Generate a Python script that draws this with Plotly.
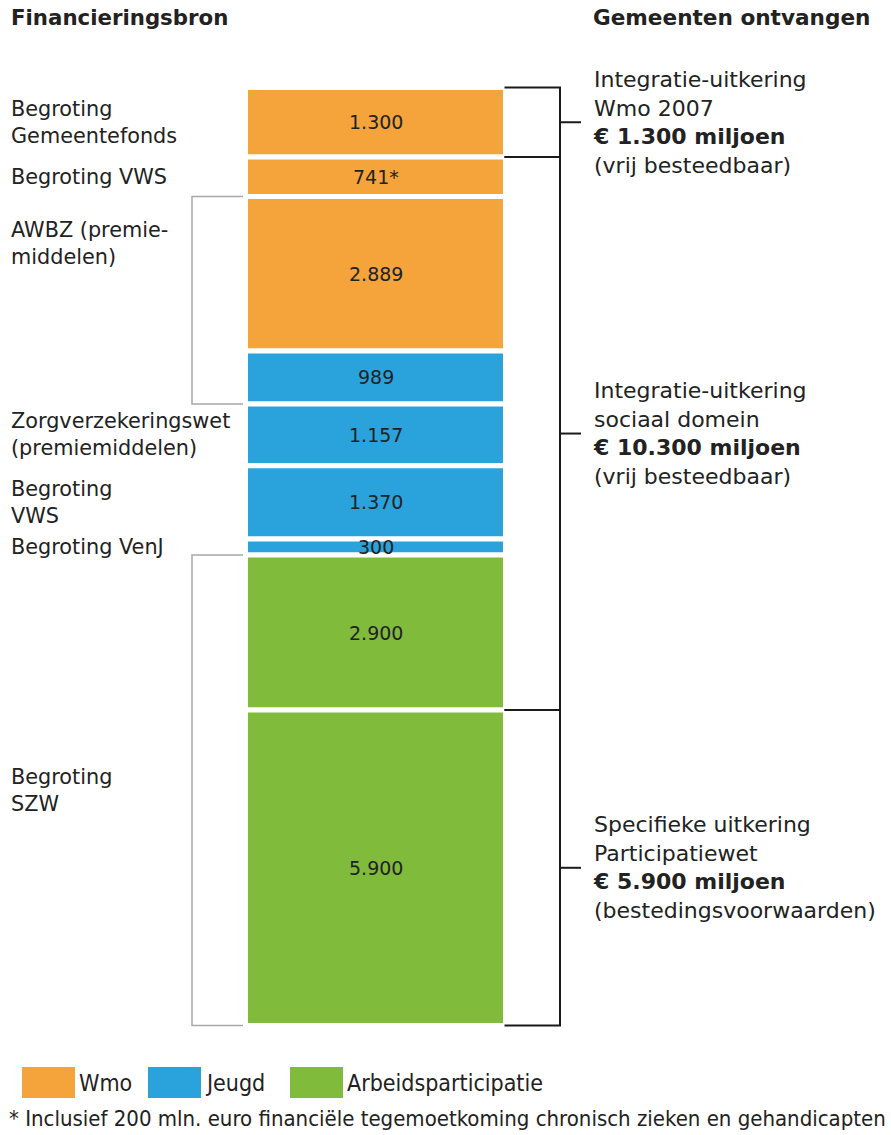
import plotly.graph_objects as go

# ---------------- data ----------------
segment_values = [1300, 741, 2889, 989, 1157, 1370, 300, 2900, 5900]
segment_domain = ["Wmo", "Wmo", "Wmo", "Jeugd", "Jeugd", "Jeugd", "Jeugd",
                  "Arbeidsparticipatie", "Arbeidsparticipatie"]
segment_suffix = ["", "*", "", "", "", "", "", "", ""]

domain_names = ["Wmo", "Jeugd", "Arbeidsparticipatie"]
domain_colors = ["#F4A43A", "#2AA3DC", "#80BB3C"]

# financing sources
source_labels = ["Begroting<br>Gemeentefonds", "Begroting VWS", "AWBZ (premie-<br>middelen)",
                 "Zorgverzekeringswet<br>(premiemiddelen)", "Begroting<br>VWS",
                 "Begroting VenJ", "Begroting<br>SZW"]
source_first = [0, 1, 2, 4, 5, 6, 7]
source_last = [0, 1, 3, 4, 5, 6, 8]
source_bracket = [False, False, True, False, False, False, True]
source_top = [False, False, True, False, False, False, False]

# what municipalities receive
receive_names = ["Integratie-uitkering<br>Wmo 2007", "Integratie-uitkering<br>sociaal domein",
                 "Specifieke uitkering<br>Participatiewet"]
receive_amounts = [1300, 10300, 5900]
receive_conditions = ["(vrij besteedbaar)", "(vrij besteedbaar)", "(bestedingsvoorwaarden)"]
receive_first = [0, 1, 8]
receive_last = [0, 7, 8]

footnote = "* Inclusief 200 mln. euro financiële tegemoetkoming chronisch zieken en gehandicapten"
header_left = "Financieringsbron"
header_right = "Gemeenten ontvangen"


def nl(v):
    return f"{v:,}".replace(",", ".")


# ---------------- layout constants ----------------
W, H = 891, 1135
FONT = "DejaVu Sans"
NARROW = "DejaVu Sans Condensed"
TXT = "#222222"
top_px, bot_px = 87.5, 1025.5
total = sum(segment_values)
scale = (bot_px - top_px) / total
y_range = [total + (H - bot_px) / scale, -top_px / scale]

bar_center, bar_width = 375.5, 260
bar_right = bar_center + bar_width / 2 - 1

starts = []
acc = 0
for v in segment_values:
    starts.append(acc)
    acc += v
ends = [s + v for s, v in zip(starts, segment_values)]
color_of = dict(zip(domain_names, domain_colors))

fig = go.Figure()
fig.add_trace(go.Bar(
    x=[bar_center] * len(segment_values),
    y=segment_values,
    base=starts,
    width=bar_width,
    marker=dict(color=[color_of[d] for d in segment_domain],
                line=dict(color="white", width=5)),
    showlegend=False, hoverinfo="skip",
))

annotations = []
shapes = []

# value labels
for s, v, suf in zip(starts, segment_values, segment_suffix):
    annotations.append(dict(x=bar_center, y=s + v / 2, xref="x", yref="y",
                            text=nl(v) + suf, showarrow=False,
                            font=dict(family=FONT, size=19, color=TXT)))

LX = 9
# left labels and grey brackets
for lab, f, l, br, tp in zip(source_labels, source_first, source_last, source_bracket, source_top):
    y0, y1 = starts[f], ends[l]
    if tp:
        annotations.append(dict(x=LX, y=y0, xref="x", yref="y", text=lab, showarrow=False,
                                xanchor="left", yanchor="top", yshift=-19, align="left",
                                font=dict(family=FONT, size=20.8, color=TXT)))
    else:
        annotations.append(dict(x=LX, y=(y0 + y1) / 2, xref="x", yref="y", text=lab,
                                showarrow=False, xanchor="left", yanchor="middle", align="left",
                                font=dict(family=FONT, size=20.8, color=TXT)))
    if br:
        shapes.append(dict(type="path", xref="x", yref="y",
                           path=f"M 243 {y0} L 192 {y0} L 192 {y1} L 243 {y1}",
                           line=dict(color="#A8A8A8", width=1.5)))

RX = 591
# right brackets and labels
for name, amt, cond, f, l in zip(receive_names, receive_amounts, receive_conditions,
                                 receive_first, receive_last):
    y0, y1 = starts[f], ends[l]
    shapes.append(dict(type="path", xref="x", yref="y",
                       path=f"M {bar_right} {y0} L 560 {y0} L 560 {y1} L {bar_right} {y1}",
                       line=dict(color="#1A1A1A", width=2)))
    shapes.append(dict(type="line", xref="x", yref="y", x0=560, x1=581,
                       y0=(y0 + y1) / 2, y1=(y0 + y1) / 2,
                       line=dict(color="#1A1A1A", width=2)))
    annotations.append(dict(x=RX, y=(y0 + y1) / 2, xref="x", yref="y",
                            text=f"{name}<br><b>€ {nl(amt)} miljoen</b><br>{cond}",
                            showarrow=False, xanchor="left", yanchor="middle", align="left",
                            font=dict(family=FONT, size=22, color=TXT)))


def py(p):
    return 1 - p / H


# headers
annotations.append(dict(x=LX, y=py(18), xref="x", yref="paper", text=f"<b>{header_left}</b>",
                        showarrow=False, xanchor="left", yanchor="middle",
                        font=dict(family=FONT, size=21.3, color=TXT)))
annotations.append(dict(x=RX, y=py(18), xref="x", yref="paper", text=f"<b>{header_right}</b>",
                        showarrow=False, xanchor="left", yanchor="middle",
                        font=dict(family=FONT, size=21.6, color=TXT)))

# legend
leg_x = [22, 148, 290]
for name, col, lx in zip(domain_names, domain_colors, leg_x):
    shapes.append(dict(type="rect", xref="x", yref="paper", x0=lx, x1=lx + 53,
                       y0=py(1098), y1=py(1067), fillcolor=col, line=dict(width=0)))
    annotations.append(dict(x=lx + 55, y=py(1083), xref="x", yref="paper", text=name,
                            showarrow=False, xanchor="left", yanchor="middle",
                            font=dict(family=NARROW, size=23, color=TXT)))

annotations.append(dict(x=7, y=py(1118), xref="x", yref="paper", text=footnote,
                        showarrow=False, xanchor="left", yanchor="middle",
                        font=dict(family=NARROW, size=22, color=TXT)))

fig.update_layout(
    width=W, height=H,
    margin=dict(l=0, r=0, t=0, b=0),
    paper_bgcolor="white", plot_bgcolor="white",
    barmode="overlay",
    xaxis=dict(range=[0, W], visible=False, fixedrange=True),
    yaxis=dict(range=y_range, visible=False, fixedrange=True),
    annotations=annotations,
    shapes=shapes,
    showlegend=False,
)

fig.write_html("out.html", config={"displayModeBar": False},
               post_script="document.body.style.margin='0';document.body.style.overflow='hidden';")
